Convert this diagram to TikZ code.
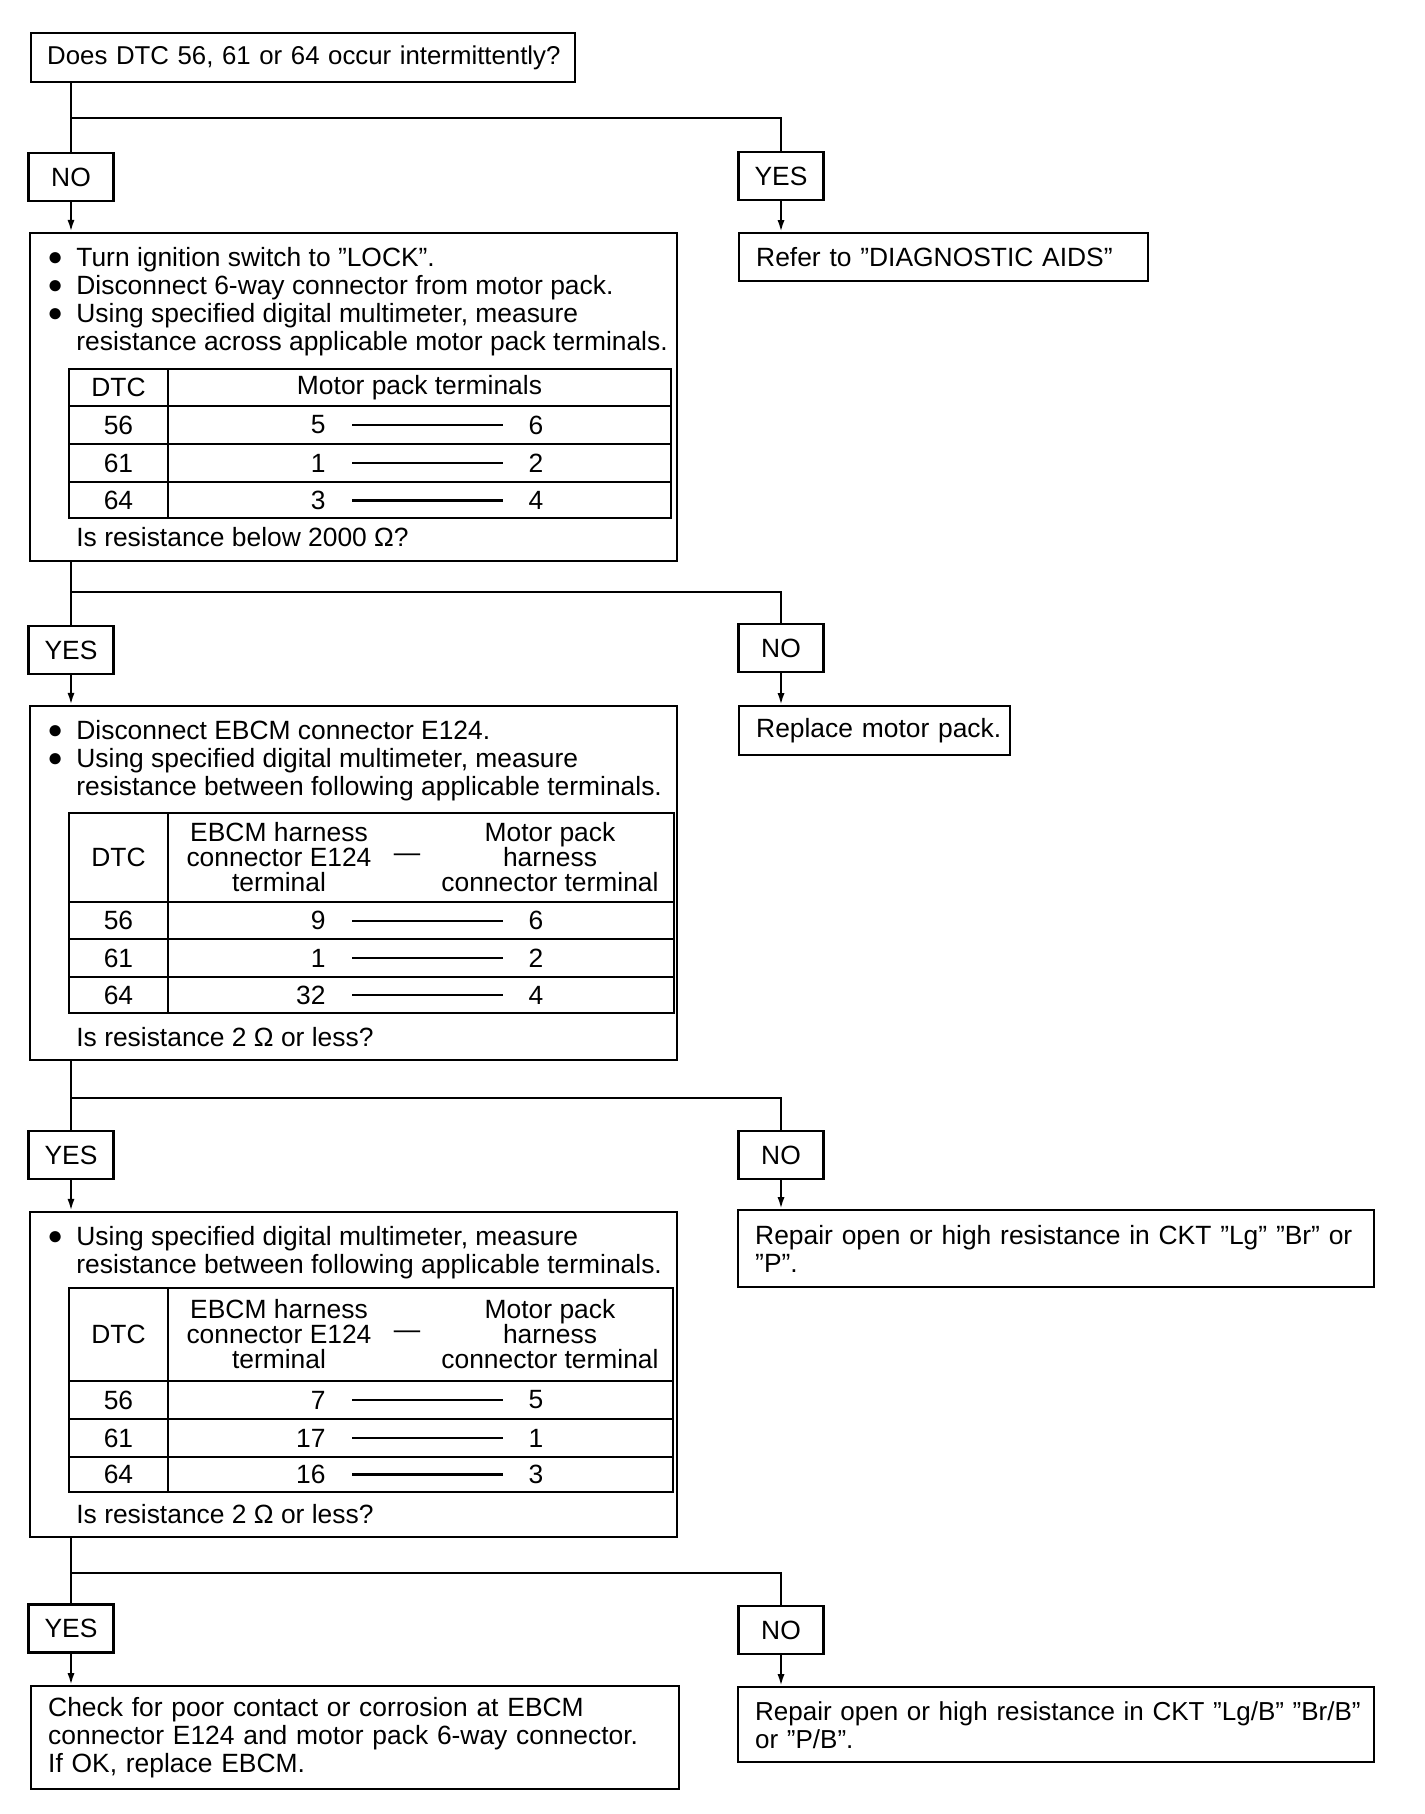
\documentclass[tikz,border=0pt]{standalone}
\usepackage{fontspec}
\setmainfont{Liberation Sans}
\usetikzlibrary{arrows.meta,positioning,calc}
\newcommand{\bul}{\makebox[13.25pt][l]{\hspace*{-1.2pt}\raisebox{0.4pt}{\fontsize{13pt}{13pt}\selectfont ●}}}
\newcommand{\bulind}{\hspace*{13.25pt}}

\begin{document}
\begin{tikzpicture}[
  x=0.5pt, y=-0.5pt,
  font=\fontsize{13.2pt}{14pt}\selectfont,
  answer/.style={draw, line width=1.2pt, minimum width=42.5pt, minimum height=24pt, inner sep=0pt},
  stepbox/.style={draw, line width=1.2pt, inner sep=0pt, minimum width=323.5pt},
  result/.style={draw, line width=1.2pt, anchor=north west, align=left, inner xsep=8.5pt, inner ysep=0pt},
  note/.style={anchor=north west, align=left, inner sep=0pt},
  cell/.style={inner sep=0pt},
  head/.style={inner sep=0pt, align=center, font=\fontsize{13.2pt}{12.5pt}\selectfont},
  tabrule/.style={line width=1.2pt},
  divider/.style={line width=0.7pt},
  pair/.style={line width=1pt},
  link/.style={line width=1.1pt},
  flow/.style={line width=1.1pt, -{Latex[length=6pt,width=3.6pt]}}
]
\useasboundingbox (0,0) rectangle (1424,1814);

% first question
\node[result, text width=256pt, inner xsep=8pt, minimum height=24.5pt, font=\fontsize{12.9pt}{14pt}\selectfont] (ask) at (30,32) {\mbox{Does DTC 56, 61 or 64 occur intermittently?}};
\node[answer] (no1) at (71,177) {NO};
\node[answer] (yes1) at (781,176) {YES};
\node[result, text width=187.5pt, minimum height=24pt] (refer) at (738,232) {\mbox{Refer to "DIAGNOSTIC AIDS"}};

% motor pack check
\node[stepbox, minimum height=164pt] (step1) at (353.5,397) {};
\node[note] (do1) at (49.5,247) {\bul Turn ignition switch to "LOCK".\\\bul Disconnect 6-way connector from motor pack.\\\bul Using specified digital multimeter, measure\\\bulind resistance across applicable motor pack terminals.};
\draw[tabrule] (69,369) rectangle (671,518);
\draw[tabrule] (69,406) -- (671,406) (69,444) -- (671,444) (69,482) -- (671,482);
\draw[divider] (168,369) -- (168,518);
\node[cell] (h1a) at (118.5,387.5) {DTC};
\node[cell] (h1b) at (419.5,387.5) {Motor pack terminals};
\node[cell] (d11) at (118.5,425) {56}; \node[cell, anchor=east] (l11) at (326,425) {5}; \draw[pair] (352,425) -- (503,425); \node[cell] (r11) at (536,425) {6};
\node[cell] (d12) at (118.5,463) {61}; \node[cell, anchor=east] (l12) at (326,463) {1}; \draw[pair] (352,463) -- (503,463); \node[cell] (r12) at (536,463) {2};
\node[cell] (d13) at (118.5,500) {64}; \node[cell, anchor=east] (l13) at (326,500) {3}; \draw[pair, line width=1.5pt] (352,500) -- (503,500); \node[cell] (r13) at (536,500) {4};
\node[cell, anchor=west] (q1) at (76,537) {Is resistance below 2000 Ω?};

\node[answer] (yes2) at (71,650) {YES};
\node[answer] (no2) at (781,648) {NO};
\node[result, text width=118.5pt, minimum height=24.5pt] (replace) at (738,705) {\mbox{Replace motor pack.}};

% harness check, first circuit
\node[stepbox, minimum height=177pt] (step2) at (353.5,883) {};
\node[note] (do2) at (49.5,720) {\bul Disconnect EBCM connector E124.\\\bul Using specified digital multimeter, measure\\\bulind resistance between following applicable terminals.};
\draw[tabrule] (69,813) rectangle (674,1013);
\draw[tabrule] (69,902) -- (674,902) (69,939) -- (674,939) (69,977) -- (674,977);
\draw[divider] (168,813) -- (168,1013);
\node[cell] (h2a) at (118.5,857.5) {DTC};
\node[head] (h2b) at (279,857.5) {EBCM harness\\connector E124\\terminal};
\node[cell] (h2c) at (407,857.5) {\textemdash};
\node[head] (h2d) at (550,857.5) {Motor pack\\harness\\connector terminal};
\node[cell] (d21) at (118.5,920.5) {56}; \node[cell, anchor=east] (l21) at (326,920.5) {9}; \draw[pair] (352,920.5) -- (503,920.5); \node[cell] (r21) at (536,920.5) {6};
\node[cell] (d22) at (118.5,958) {61}; \node[cell, anchor=east] (l22) at (326,958) {1}; \draw[pair] (352,958) -- (503,958); \node[cell] (r22) at (536,958) {2};
\node[cell] (d23) at (118.5,995) {64}; \node[cell, anchor=east] (l23) at (326,995) {32}; \draw[pair] (352,995) -- (503,995); \node[cell] (r23) at (536,995) {4};
\node[cell, anchor=west] (q2) at (76,1037) {Is resistance 2 Ω or less?};

\node[answer] (yes3) at (71,1155) {YES};
\node[answer] (no3) at (781,1155) {NO};
\node[result, text width=301pt, minimum height=38.5pt] (repair1) at (737,1209) {\mbox{Repair open or high resistance in CKT "Lg" "Br" or}\\"P".};

% harness check, second circuit
\node[stepbox, minimum height=162.5pt] (step3) at (353.5,1374.5) {};
\node[note] (do3) at (49.5,1226) {\bul Using specified digital multimeter, measure\\\bulind resistance between following applicable terminals.};
\draw[tabrule] (69,1288) rectangle (673,1492);
\draw[tabrule] (69,1381) -- (673,1381) (69,1419) -- (673,1419) (69,1457) -- (673,1457);
\draw[divider] (168,1288) -- (168,1492);
\node[cell] (h3a) at (118.5,1334.5) {DTC};
\node[head] (h3b) at (279,1334.5) {EBCM harness\\connector E124\\terminal};
\node[cell] (h3c) at (407,1334.5) {\textemdash};
\node[head] (h3d) at (550,1334.5) {Motor pack\\harness\\connector terminal};
\node[cell] (d31) at (118.5,1400) {56}; \node[cell, anchor=east] (l31) at (326,1400) {7}; \draw[pair] (352,1400) -- (503,1400); \node[cell] (r31) at (536,1400) {5};
\node[cell] (d32) at (118.5,1438) {61}; \node[cell, anchor=east] (l32) at (326,1438) {17}; \draw[pair] (352,1438) -- (503,1438); \node[cell] (r32) at (536,1438) {1};
\node[cell] (d33) at (118.5,1474.5) {64}; \node[cell, anchor=east] (l33) at (326,1474.5) {16}; \draw[pair, line width=1.5pt] (352,1474.5) -- (503,1474.5); \node[cell] (r33) at (536,1474.5) {3};
\node[cell, anchor=west] (q3) at (76,1514) {Is resistance 2 Ω or less?};

\node[answer] (yes4) at (71,1628.5) {YES};
\node[answer] (no4) at (781,1630) {NO};
\node[result, text width=307pt, minimum height=51.5pt] (check) at (30,1685) {\mbox{Check for poor contact or corrosion at EBCM}\\\mbox{connector E124 and motor pack 6-way connector.}\\If OK, replace EBCM.};
\node[result, text width=301pt, minimum height=37.5pt, font=\fontsize{13pt}{14pt}\selectfont] (repair2) at (737,1686) {\mbox{Repair open or high resistance in CKT "Lg/B" "Br/B"}\\or "P/B".};

% branches
\coordinate (br1) at (71,118);
\coordinate (br2) at (71,592);
\coordinate (br3) at (71,1098);
\coordinate (br4) at (71,1573);
\draw[link] (ask.south -| no1) -- (no1.north);
\draw[link] (br1) -| (yes1.north);
\draw[flow] (no1.south) -- (step1.north -| no1);
\draw[flow] (yes1.south) -- (refer.north -| yes1);
\draw[link] (step1.south -| yes2) -- (yes2.north);
\draw[link] (br2) -| (no2.north);
\draw[flow] (yes2.south) -- (step2.north -| yes2);
\draw[flow] (no2.south) -- (replace.north -| no2);
\draw[link] (step2.south -| yes3) -- (yes3.north);
\draw[link] (br3) -| (no3.north);
\draw[flow] (yes3.south) -- (step3.north -| yes3);
\draw[flow] (no3.south) -- (repair1.north -| no3);
\draw[link] (step3.south -| yes4) -- (yes4.north);
\draw[link] (br4) -| (no4.north);
\draw[flow] (yes4.south) -- (check.north -| yes4);
\draw[flow] (no4.south) -- (repair2.north -| no4);
\end{tikzpicture}
\end{document}
